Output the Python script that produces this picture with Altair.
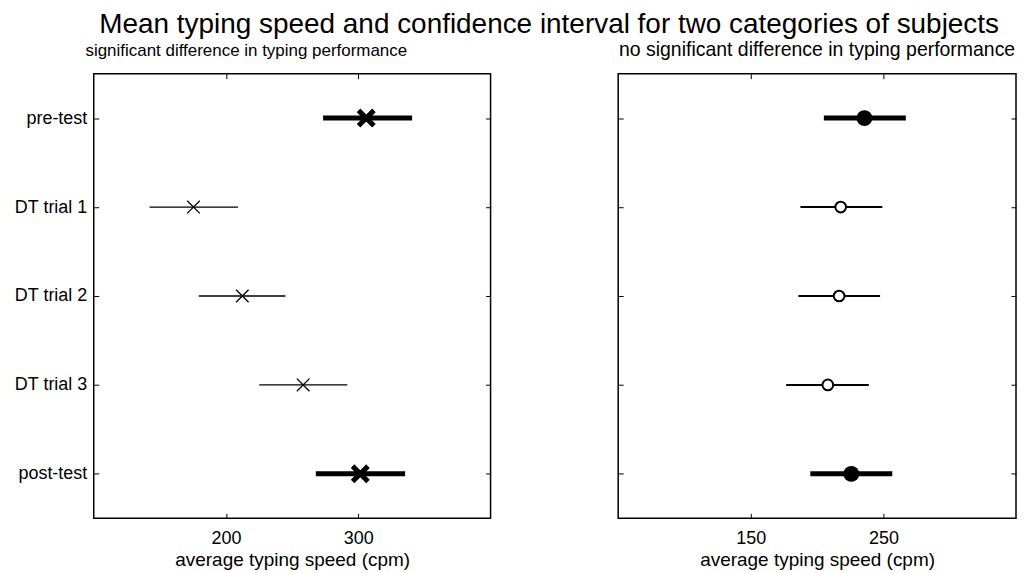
import altair as alt
import pandas as pd

# ---------------- data ----------------
categories = ["pre-test", "DT trial 1", "DT trial 2", "DT trial 3", "post-test"]
emphasis = ["thick", "thin", "thin", "thin", "thick"]

sig_mean = [306.0, 175.4, 212.3, 258.3, 301.5]
sig_low = [273.4, 142.2, 179.4, 225.1, 267.9]
sig_high = [340.7, 209.1, 245.0, 291.7, 335.4]

nosig_mean = [235.7, 217.8, 216.6, 208.1, 225.8]
nosig_low = [205.1, 187.4, 185.9, 176.7, 194.9]
nosig_high = [266.9, 249.2, 247.5, 239.0, 256.7]

left_ticks = [200, 300]
right_ticks = [150, 250]
left_domain = [100, 400]
right_domain = [50, 350]

main_title = "Mean typing speed and confidence interval for two categories of subjects"
left_sub = "significant difference in typing performance"
right_sub = "no significant difference in typing performance"
x_title = "average typing speed (cpm)"

FONT = "Liberation Sans"
X_PATH = "M-1,-1L1,1M-1,1L1,-1"

left_df = pd.DataFrame({"category": categories, "kind": emphasis,
                        "mean": sig_mean, "low": sig_low, "high": sig_high})
right_df = pd.DataFrame({"category": categories, "kind": emphasis,
                         "mean": nosig_mean, "low": nosig_low, "high": nosig_high})

W_L, W_R, H = 398, 399, 446


def panel(df, domain, ticks, width, show_labels, subtitle, sub_size, sub_dx,
          thick_marker, thin_marker):
    xs = alt.Scale(domain=domain, nice=False, zero=False)
    ys = alt.Scale(type="point", domain=categories, padding=0.5)

    base = alt.Chart(df)

    bottom_axis = alt.Axis(values=ticks, orient="bottom", offset=-5, tickSize=5,
                           domain=False, grid=False, labelPadding=11, labelFontSize=18,
                           titleFontSize=19, titlePadding=3, title=x_title,
                           tickColor="black", labelColor="black", titleColor="black",
                           titleFontWeight="normal", labelFont=FONT, titleFont=FONT)
    left_axis = alt.Axis(orient="left", offset=-5, tickSize=5, domain=False, grid=False,
                         labels=show_labels, labelPadding=7, labelFontSize=18,
                         title=None, tickColor="black", labelColor="black", labelFont=FONT)
    top_axis = alt.Axis(values=ticks, orient="top", offset=-5, tickSize=5, domain=False,
                        grid=False, labels=False, title=None, tickColor="black")
    right_axis = alt.Axis(orient="right", offset=-5, tickSize=5, domain=False, grid=False,
                          labels=False, title=None, tickColor="black")

    thick = base.transform_filter(alt.datum.kind == "thick")
    thin = base.transform_filter(alt.datum.kind == "thin")

    rule_thick = thick.mark_rule(strokeWidth=5, color="black", strokeCap="butt").encode(
        x=alt.X("low:Q", scale=xs, axis=bottom_axis),
        x2="high:Q",
        y=alt.Y("category:N", scale=ys, sort=categories, axis=left_axis),
    )
    rule_thin = thin.mark_rule(strokeWidth=thin_marker["line"], color="black", strokeCap="butt").encode(
        x=alt.X("low:Q", scale=xs, axis=None),
        x2="high:Q",
        y=alt.Y("category:N", scale=ys, sort=categories, axis=None),
    )
    pt_thick = thick.mark_point(**thick_marker["mark"]).encode(
        x=alt.X("mean:Q", scale=xs, axis=None),
        y=alt.Y("category:N", scale=ys, sort=categories, axis=None),
    )
    pt_thin = thin.mark_point(**thin_marker["mark"]).encode(
        x=alt.X("mean:Q", scale=xs, axis=None),
        y=alt.Y("category:N", scale=ys, sort=categories, axis=None),
    )
    ghost = base.mark_point(opacity=0).encode(
        x=alt.X("mean:Q", scale=xs, axis=top_axis),
        y=alt.Y("category:N", scale=ys, sort=categories, axis=right_axis),
    )

    return alt.layer(rule_thick, rule_thin, pt_thick, pt_thin, ghost).resolve_axis(
        x="independent", y="independent"
    ).properties(
        width=width, height=H,
        view=alt.ViewBackground(stroke="black", strokeWidth=1.5, strokeOpacity=1),
        title=alt.TitleParams(text=subtitle, fontSize=sub_size, fontWeight="normal", font=FONT,
                              anchor="middle", offset=13, dx=sub_dx, color="black"),
    )


left = panel(
    left_df, left_domain, left_ticks, W_L, True, left_sub, 17, -46,
    thick_marker={"mark": dict(shape=X_PATH, size=240, filled=False, strokeWidth=5,
                               color="black", opacity=1)},
    thin_marker={"line": 1.3,
                 "mark": dict(shape=X_PATH, size=160, filled=False, strokeWidth=1.3,
                              color="black", opacity=1)},
)

right = panel(
    right_df, right_domain, right_ticks, W_R, False, right_sub, 19.5, 0,
    thick_marker={"mark": dict(shape="circle", size=256, filled=True, color="black",
                               opacity=1, strokeWidth=0)},
    thin_marker={"line": 2,
                 "mark": dict(shape="circle", size=115, filled=True, fill="white",
                              stroke="black", strokeWidth=2, opacity=1)},
)

chart = alt.hconcat(left, right, spacing=124).properties(
    title=alt.TitleParams(text=main_title, fontSize=28, fontWeight="normal", font=FONT,
                          anchor="middle", offset=0, dx=34, color="black"),
    padding={"left": 5, "right": 0, "top": 2, "bottom": 0},
).configure_view(
    stroke="black", strokeWidth=1.5
).configure(font=FONT, background="white")

chart.save("out.html", embed_options={"renderer": "svg", "actions": False})
